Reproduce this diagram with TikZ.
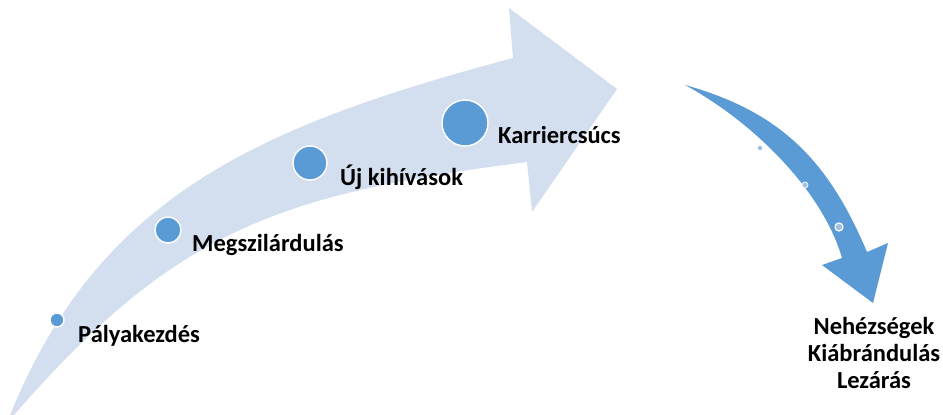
\documentclass[tikz,border=0pt]{standalone}
\usepackage{fontspec}
\setmainfont{Carlito}
\usetikzlibrary{positioning}
\definecolor{stageblue}{RGB}{91,155,213}
\definecolor{arrowlight}{RGB}{211,222,239}
\definecolor{dotlight}{RGB}{160,192,230}

\begin{document}
\begin{tikzpicture}[
  x=1pt, y=-1pt,
  stage/.style={circle, fill=stageblue, draw=white, line width=1.4pt,
                inner sep=0pt},
  lbl/.style={font=\fontsize{24.5}{27}\selectfont\bfseries, anchor=base west,
              inner sep=0pt},
  endlbl/.style={font=\fontsize{24.5}{27}\selectfont\bfseries, align=center,
                 anchor=base, inner sep=0pt},
  dot/.style={circle, fill=dotlight, inner sep=0pt},
]
\useasboundingbox (0,0) rectangle (943,415);

% ---- rising arrow ----
\fill[arrowlight] (10,415) .. controls (98,200) and (250,128) .. (513,58)
  -- (509,8) -- (617,89) -- (532,212) -- (527,162)
  .. controls (277,194) and (174,231) .. (14,415)
  -- cycle;

% ---- falling arrow ----
\fill[stageblue] (685,85) .. controls (782,112) and (829,162) .. (867,252)
  -- (888,243) -- (873,303) -- (822,265) -- (842,258)
  .. controls (823,192) and (755,123) .. (685,85)
  -- cycle;

% ---- stages ----
\node[stage, minimum size=14pt] (start) at (57,320) {};
\node[stage, minimum size=26pt] (consol) at (168,230) {};
\node[stage, minimum size=34pt] (newch) at (310,163) {};
\node[stage, minimum size=46pt] (peak) at (465,123) {};

\node[lbl] (startlbl) at (78,342) {Pályakezdés};
\node[lbl] (consollbl) at (192,251) {Megszilárdulás};
\node[lbl] (newchlbl) at (340,185) {Új kihívások};
\node[lbl] (peaklbl) at (498,143) {Karriercsúcs};

% ---- decline ----
\node[dot, minimum size=4.5pt] (d1) at (760,148) {};
\node[dot, minimum size=6pt, draw=white, line width=0.7pt] (d2) at (805,185) {};
\node[dot, minimum size=8pt, draw=white, line width=1.2pt] (d3) at (839,227) {};

\node[endlbl] (endlbl) at (874,388) {Nehézségek\\Kiábrándulás\\Lezárás};

\end{tikzpicture}
\end{document}
